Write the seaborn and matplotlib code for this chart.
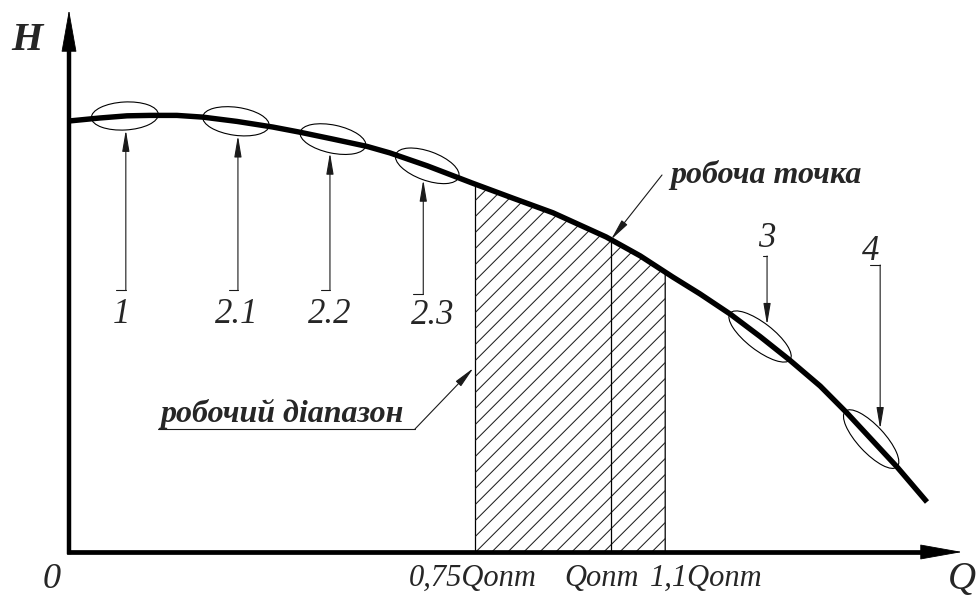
import numpy as np
import matplotlib
matplotlib.use("Agg")
import matplotlib.pyplot as plt
import matplotlib.transforms as mtransforms
from matplotlib.patches import Ellipse
import seaborn as sns

# Head-capacity characteristic of the pump (relative units)
flow = [0.000, 0.057, 0.107, 0.149, 0.199, 0.247, 0.310, 0.376, 0.426, 0.487,
        0.550, 0.592, 0.661, 0.744, 0.819, 0.893, 0.991, 1.054, 1.114, 1.164,
        1.220, 1.275, 1.330, 1.386, 1.435, 1.480, 1.528, 1.583]
head = [1.000, 1.007, 1.012, 1.013, 1.013, 1.009, 0.999, 0.986, 0.974, 0.958,
        0.941, 0.926, 0.896, 0.856, 0.821, 0.787, 0.731, 0.687, 0.638, 0.599,
        0.552, 0.500, 0.445, 0.385, 0.323, 0.262, 0.197, 0.116]

# Characteristic zones marked on the curve
zone_labels = ["1", "2.1", "2.2", "2.3", "3", "4"]
zone_flow = [0.103, 0.308, 0.487, 0.661, 1.275, 1.480]

# Working range and duty flow, as fractions of Q_opt
range_flow = [0.75, 1.0, 1.1]
range_labels = ["0,75Qопт", "Qопт", "1,1Qопт"]

axis_labels = {"x": "Q", "y": "H", "origin": "0"}
duty_label = "робоча точка"
range_caption = "робочий діапазон"

sns.set_theme(style="white")
plt.rcParams["font.family"] = ["Liberation Serif", "DejaVu Serif"]

W, HGT = 979, 601
fig = plt.figure(figsize=(W / 100, HGT / 100), dpi=100)
fig.patch.set_facecolor("white")
ax = fig.add_axes([0, 0, 1, 1])

q = np.asarray(flow)
h = np.asarray(head)

# Main characteristic
sns.lineplot(x=flow, y=head, sort=False, estimator=None, color="black",
             linewidth=3.9, solid_capstyle="butt", solid_joinstyle="round",
             ax=ax, zorder=4)
if ax.get_legend():
    ax.get_legend().remove()

# Canvas layout: origin of the Q-H axes and pixels per unit
OX, OY, SX, SY = 69, 552, 542, 431
ax.set_xlim(-OX / SX, (W - OX) / SX)
ax.set_ylim((OY - HGT) / SY, OY / SY)
ax.set_axis_off()


def px(x, y):
    """Canvas position (pixels from the top-left corner) -> figure pixels."""
    return (x, HGT - y)


to_disp = ax.transData.transform
ident = mtransforms.IdentityTransform()

# Working range under the curve, outlined and hatched at 45 degrees
lo, opt, hi = range_flow
inside = (q > lo) & (q < hi)
qs = np.concatenate([[lo], q[inside], [hi]])
hs = np.interp(qs, q, h)
area = ax.fill_between(qs, 0, hs, facecolor="none", edgecolor="black",
                       linewidth=0.9, zorder=2)
clip = area.get_paths()[0]
x_left, _ = to_disp((lo, 0))
x_right, y_base = to_disp((hi, 0))
y_top = to_disp((0, hs.max()))[1]
span = y_top - y_base
step = 16.0
x0 = x_left - span
while x0 < x_right:
    ln, = ax.plot([x0, x0 + span + 20], [y_base, y_top + 20], transform=ident,
                  color="#202020", lw=0.75, zorder=2)
    ln.set_clip_path(clip, ax.transData)
    x0 += step
h_opt = np.interp(opt, q, h)
ax.plot([opt, opt], [0, h_opt], color="black", lw=0.9, zorder=2)

# Coordinate axes with arrowheads
x_tip = (962 - OX) / SX
y_tip = (OY - 10) / SY
head_len_x = 39 / SX
head_len_y = 40 / SY
ax.plot([0, x_tip - head_len_x], [0, 0], color="black", lw=3.4,
        solid_capstyle="projecting", zorder=6)
ax.plot([0, 0], [0, y_tip - head_len_y], color="black", lw=3.2,
        solid_capstyle="projecting", zorder=6)
big_head = dict(arrowstyle="-|>,head_length=2.8,head_width=0.5",
                mutation_scale=10, lw=0.6, color="black",
                shrinkA=0, shrinkB=0)
ax.annotate("", xy=(x_tip, 0), xytext=(x_tip - head_len_x, 0),
            arrowprops=big_head, zorder=6)
ax.annotate("", xy=(0, y_tip), xytext=(0, y_tip - head_len_y),
            arrowprops=big_head, zorder=6)


def edge_offset(X, ang, a, b, top):
    """Vertical offset of an ellipse edge at horizontal offset X."""
    t = np.radians(ang)
    c, s = np.cos(t), np.sin(t)
    A = s * s / a / a + c * c / b / b
    B = 2 * X * c * s * (1 / a / a - 1 / b / b)
    C = X * X * (c * c / a / a + s * s / b / b) - 1
    d = np.sqrt(B * B - 4 * A * C)
    return (-B + d) / (2 * A) if top else (-B - d) / (2 * A)


small_head = dict(arrowstyle="-|>,head_length=1.3,head_width=0.22",
                  mutation_scale=10, lw=0.8, color="#1a1a1a",
                  shrinkA=0, shrinkB=0)

ell_size = [(67, 28), (67, 28), (67, 28), (67, 29), (76, 27), (76, 27)]
lead_dx = [1, 2, -3, -4, 7, 9]
lead_end = [290, 290, 290, 294, 256, 265]
lead_tick = [10, 9, 9, 10, 4, 10]
text_dx = [-4, -1, 0, 9, 0, -10]
text_base = [323, 323, 323, 324, 247, 260]

for i, (lab, qc) in enumerate(zip(zone_labels, zone_flow)):
    hc = np.interp(qc, q, h)
    cx, cy = to_disp((qc, hc))
    p1 = to_disp((qc - 0.02, np.interp(qc - 0.02, q, h)))
    p2 = to_disp((qc + 0.02, np.interp(qc + 0.02, q, h)))
    ang = np.degrees(np.arctan2(p2[1] - p1[1], p2[0] - p1[0]))
    w, hh = ell_size[i]
    ax.add_patch(Ellipse((cx, cy), w, hh, angle=ang, transform=ident,
                         fill=False, ec="black", lw=0.8, zorder=5))
    above = i >= 4
    lx = cx + lead_dx[i]
    ty = cy + edge_offset(lead_dx[i], ang, w / 2, hh / 2, top=above)
    ey = HGT - lead_end[i]
    ax.annotate("", xy=(lx, ty), xycoords="figure pixels",
                xytext=(lx, ey), textcoords="figure pixels",
                arrowprops=small_head, zorder=5)
    ax.plot([lx - lead_tick[i], lx], [ey, ey], transform=ident,
            color="#1a1a1a", lw=0.8, zorder=5)
    ax.text(lx + text_dx[i], HGT - text_base[i], lab, transform=ident,
            ha="center", va="baseline", fontsize=25, style="italic")

# Duty point callout
op = to_disp((opt, h_opt))
ax.annotate("", xy=op, xycoords="figure pixels",
            xytext=px(662, 175), textcoords="figure pixels",
            arrowprops=small_head, zorder=5)
ax.text(*px(670, 183), duty_label, transform=ident, ha="left",
        va="baseline", fontsize=23, style="italic", weight="bold")

# Working range callout
rx, _ = to_disp((lo, 0))
ax.annotate("", xy=(rx - 2, HGT - 368), xycoords="figure pixels",
            xytext=px(415, 429), textcoords="figure pixels",
            arrowprops=small_head, zorder=5)
ax.plot([158, 415], [HGT - 429, HGT - 429], transform=ident,
        color="#1a1a1a", lw=0.8, zorder=5)
ax.text(*px(160, 422), range_caption, transform=ident, ha="left",
        va="baseline", fontsize=23, style="italic", weight="bold")

# Flow tick labels
tick_dx = [-3, -9, 41]
for qv, lab, dx in zip(range_flow, range_labels, tick_dx):
    xq, _ = to_disp((qv, 0))
    ax.text(xq + dx, HGT - 586, lab, transform=ident, ha="center",
            va="baseline", fontsize=22, style="italic")

# Axis names and origin
ax.text(*px(962, 589), axis_labels["x"], transform=ident, ha="center",
        va="baseline", fontsize=28, style="italic")
ax.text(*px(27, 50), axis_labels["y"], transform=ident, ha="center",
        va="baseline", fontsize=29, style="italic", weight="bold")
ax.text(*px(52, 588), axis_labels["origin"], transform=ident, ha="center",
        va="baseline", fontsize=26, style="italic")

fig.savefig("out.png", dpi=100, facecolor="white")
